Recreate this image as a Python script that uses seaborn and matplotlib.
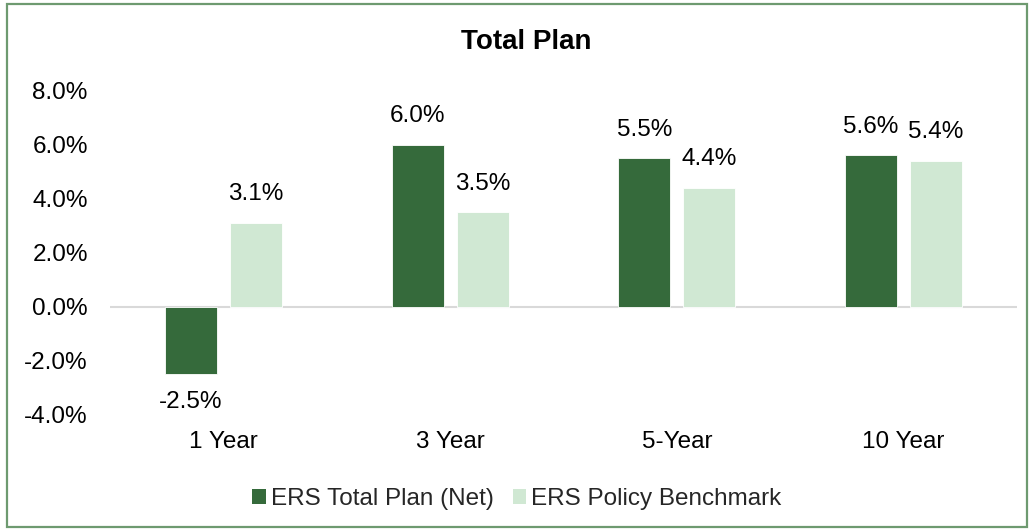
import matplotlib
matplotlib.use("Agg")
import matplotlib.pyplot as plt
from matplotlib.patches import Patch, Rectangle
import seaborn as sns
import pandas as pd

categories = ["1 Year", "3 Year", "5-Year", "10 Year"]
series_names = ["ERS Total Plan (Net)", "ERS Policy Benchmark"]
total_plan_net = [-2.5, 6.0, 5.5, 5.6]
policy_benchmark = [3.1, 3.5, 4.4, 5.4]
y_ticks = [-4, -2, 0, 2, 4, 6, 8]
title = "Total Plan"

colors = ["#356a3b", "#d0e8d3"]

df = pd.DataFrame({
    "period": categories * 2,
    "series": [series_names[0]] * len(categories) + [series_names[1]] * len(categories),
    "value": total_plan_net + policy_benchmark,
})

sns.set_theme(style="white")
plt.rcParams["font.family"] = ["Liberation Sans", "DejaVu Sans"]
FS = 17.5

fig = plt.figure(figsize=(10.34, 5.31), dpi=100)
ax = fig.add_axes([110 / 1034, 1 - 414.5 / 531, (1017 - 110) / 1034, (414.5 - 90.5) / 531])

sns.barplot(data=df, x="period", y="value", hue="series", order=categories,
            hue_order=series_names, palette=colors, saturation=1, width=0.573, gap=0.2,
            edgecolor="white", linewidth=0.6, ax=ax, legend=False)

for cont in ax.containers:
    ax.bar_label(cont, labels=[f"{v:.1f}%" for v in cont.datavalues],
                 padding=12.5, fontsize=FS, color="black")

ax.set_ylim(-4, 8)
ax.set_yticks(y_ticks)
ax.set_yticklabels([f"{v:.1f}%" for v in y_ticks], fontsize=FS, color="black")
ax.tick_params(axis="y", length=0, pad=16)
ax.tick_params(axis="x", length=0, pad=12, labelsize=FS, labelcolor="black")
ax.set_xlabel("")
ax.set_ylabel("")
for s in ax.spines.values():
    s.set_visible(False)
ax.axhline(0, color="#d9d9d9", lw=1.5, zorder=0.5)
ax.set_xlim(-0.5, len(categories) - 0.5)

fig.text(526 / 1034, 1 - 42 / 531, title, ha="center", va="center",
         fontsize=20, fontweight="bold", color="black")

handles = [Patch(facecolor=c, edgecolor="none") for c in colors]
fig.legend(handles, series_names, loc="center", bbox_to_anchor=(0.5, 1 - 499 / 531),
           ncol=2, frameon=False, fontsize=FS, handlelength=0.55, handleheight=0.55,
           handletextpad=0.2, columnspacing=0.8)

fig.patches.append(Rectangle((7 / 1034, 4 / 531), (1027 - 7) / 1034, (527 - 4) / 531,
                             transform=fig.transFigure, fill=False,
                             edgecolor="#6e9a70", linewidth=1.6))

fig.savefig("out.png", dpi=100)
